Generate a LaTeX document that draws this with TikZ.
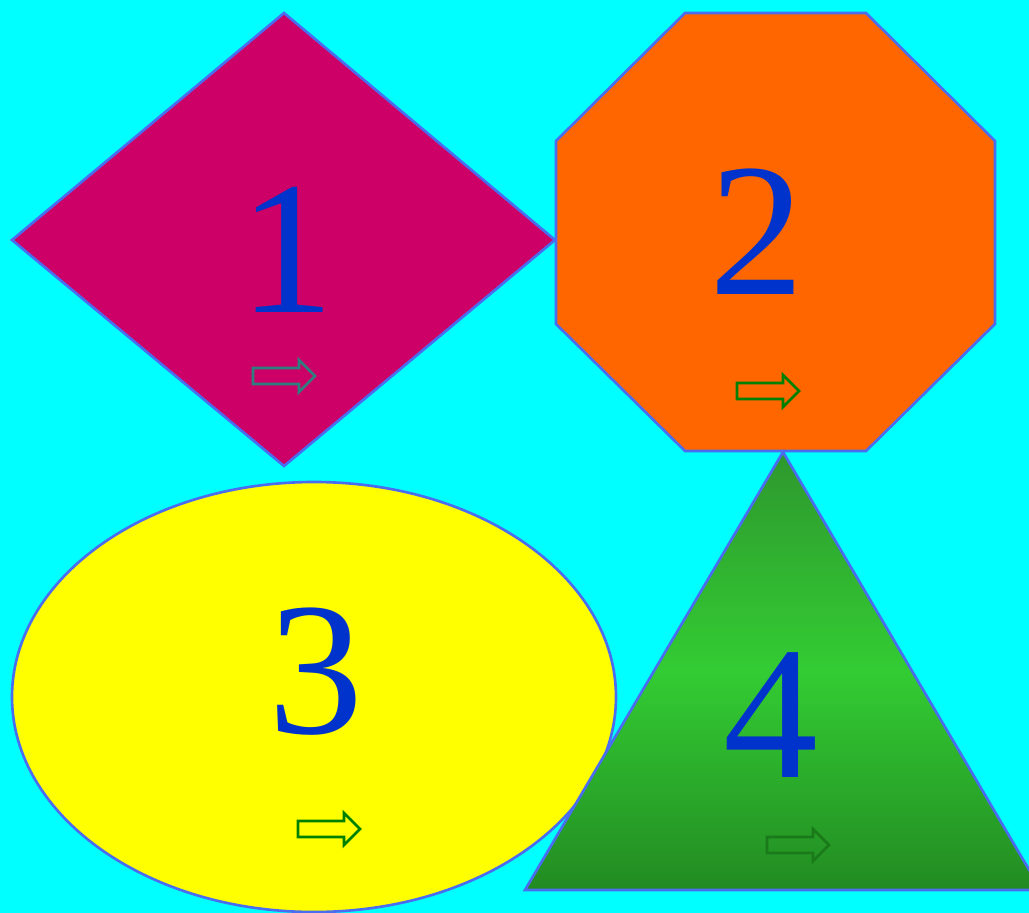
\documentclass[tikz,border=0pt]{standalone}
\usepackage{fontspec}
\setmainfont{Liberation Serif}
\definecolor{bg}{HTML}{00FFFF}
\definecolor{edge}{HTML}{4A6CF0}
\definecolor{magenta1}{HTML}{CC0066}
\definecolor{orange1}{HTML}{FF6600}
\definecolor{yellow1}{HTML}{FFFF00}
\definecolor{digit}{HTML}{0033CC}
\definecolor{gtop}{HTML}{2E982E}
\definecolor{gmid}{HTML}{33CC33}
\definecolor{gbot}{HTML}{228B22}
\definecolor{arr1}{HTML}{2E8080}
\definecolor{arr2}{HTML}{008000}
\definecolor{arr4}{HTML}{1A7A1A}
\tikzset{
  shapeline/.style={draw=edge, line width=1.5pt},
  numlabel/.style={text=digit, font=\fontsize{108}{108}\selectfont, anchor=base, inner sep=0pt},
  blockarrow/.pic={
    \draw[line width=1.6pt, line join=miter, pic actions]
      (0,-8) -- (46,-8) -- (46,-16) -- (62,0) -- (46,16) -- (46,8) -- (0,8) -- cycle;
  }
}
\begin{document}
\begin{tikzpicture}[x=0.02cm, y=-0.02cm]
\useasboundingbox (0,0) rectangle (1029,913);
\clip (0,0) rectangle (1029,913);
\fill[bg] (0,0) rectangle (1029,913);
% diamond
\path[shapeline, fill=magenta1] (284,13) -- (555,240) -- (284,466) -- (12,240) -- cycle;
% octagon
\path[shapeline, fill=orange1] (685,13) -- (866,13) -- (995,141) -- (995,324) -- (866,451) -- (685,451) -- (556,324) -- (556,141) -- cycle;
% ellipse
\path[shapeline, fill=yellow1] (314,697) ellipse [x radius=302, y radius=215];
% triangle
\shade[top color=gtop, bottom color=gbot, middle color=gmid] (783,452) -- (1041,890) -- (525,890) -- cycle;
\draw[edge, line width=1.5pt, line join=miter] (783,452) -- (1041,890) -- (525,890) -- cycle;
% digits
\node[numlabel] (n1) at (287,312) {1};
\node[numlabel] (n2) at (757,294) {2};
\node[numlabel] (n3) at (316,733) {3};
\node[numlabel] (n4) at (771,777) {4};
% arrows
\pic[draw=arr1] (a1) at (253,376) {blockarrow};
\pic[draw=arr2] (a2) at (737,391) {blockarrow};
\pic[draw=arr2] (a3) at (298,829) {blockarrow};
\pic[draw=arr4] (a4) at (767,845) {blockarrow};
\end{tikzpicture}
\end{document}
